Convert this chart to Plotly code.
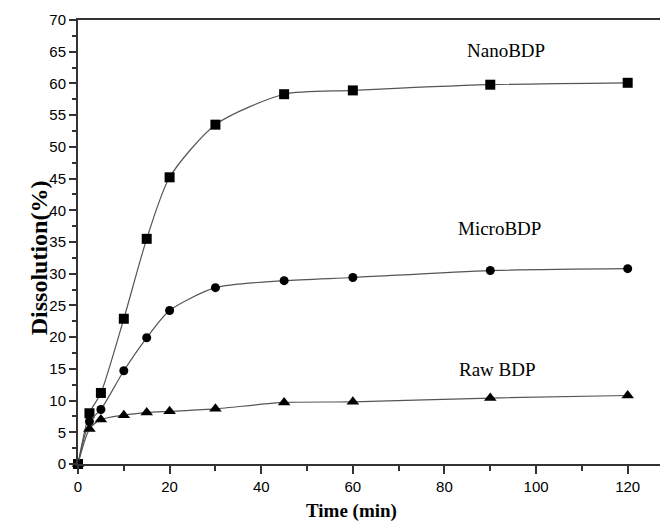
import plotly.graph_objects as go

time_min = [0, 2.5, 5, 10, 15, 20, 30, 45, 60, 90, 120]
nano_bdp = [0, 8.0, 11.2, 22.9, 35.5, 45.2, 53.5, 58.3, 58.9, 59.8, 60.1]
micro_bdp = [0, 6.7, 8.6, 14.7, 19.9, 24.2, 27.8, 28.9, 29.4, 30.5, 30.8]
raw_bdp = [0, 5.5, 7.0, 7.7, 8.1, 8.3, 8.7, 9.7, 9.8, 10.4, 10.8]

labels = [("NanoBDP", 93.5, 65.2), ("MicroBDP", 92.0, 37.2), ("Raw BDP", 91.5, 14.9)]

# page body has an 8px default margin; compensate so the plot area lands at the reference pixels
OFF = 8
PL, PR, PT, PB = 77.5, 668, 20, 464.5
PW, PH = PR - PL, PB - PT

fig = go.Figure()
series = [(nano_bdp, "square", 10), (micro_bdp, "circle", 9), (raw_bdp, "triangle-up", 11)]
for vals, sym, sz in series:
    fig.add_trace(go.Scatter(
        x=time_min, y=vals, mode="lines+markers",
        line=dict(color="#555555", width=1.2, shape="spline", smoothing=0.7),
        marker=dict(symbol=sym, size=sz, color="black", line=dict(width=0)),
        cliponaxis=False, showlegend=False))

serif = "Liberation Serif, Times New Roman, serif"
for text, x, y in labels:
    fig.add_annotation(x=x, y=y, text=text, showarrow=False, xref="x", yref="y",
                       font=dict(family=serif, size=19, color="black"))

fig.add_annotation(x=(351 - PL) / PW, y=-(511.5 - PB) / PH, xref="paper", yref="paper",
                   text="<b>Time (min)</b>", showarrow=False, yanchor="middle",
                   font=dict(family=serif, size=19, color="black"))
fig.add_annotation(x=-(PL - 23) / PW, y=(PB - 258) / PH, xref="paper", yref="paper",
                   text="<b>Dissolution(%)</b>", textangle=-90, showarrow=False,
                   font=dict(family=serif, size=24, color="black"))

tickfont = dict(family="Liberation Sans, Arial, sans-serif", size=15, color="black")
fig.update_layout(
    width=668 - OFF, height=522 - OFF,
    margin=dict(l=PL - OFF, r=0, t=PT - OFF, b=522 - PB, autoexpand=False),
    plot_bgcolor="white", paper_bgcolor="white",
    xaxis=dict(range=[0, 128.8], tickvals=[0, 20, 40, 60, 80, 100, 120],
               ticks="outside", ticklen=8, tickwidth=1.5, tickcolor="#333",
               minor=dict(tickvals=[10, 30, 50, 70, 90, 110], ticks="outside", ticklen=5, tickwidth=1.5, tickcolor="#333"),
               showline=True, linecolor="#333", linewidth=2, mirror=True,
               showgrid=False, zeroline=False, tickfont=tickfont),
    yaxis=dict(range=[0, 70], tickvals=list(range(0, 71, 5)),
               ticks="outside", ticklen=7, tickwidth=1.5, tickcolor="#333",
               minor=dict(tickvals=[2.5 + 5 * i for i in range(14)], ticks="outside", ticklen=4, tickwidth=1.5, tickcolor="#333"),
               showline=True, linecolor="#333", linewidth=2,
               showgrid=False, zeroline=False, tickfont=tickfont),
)

fig.write_html("out.html")
